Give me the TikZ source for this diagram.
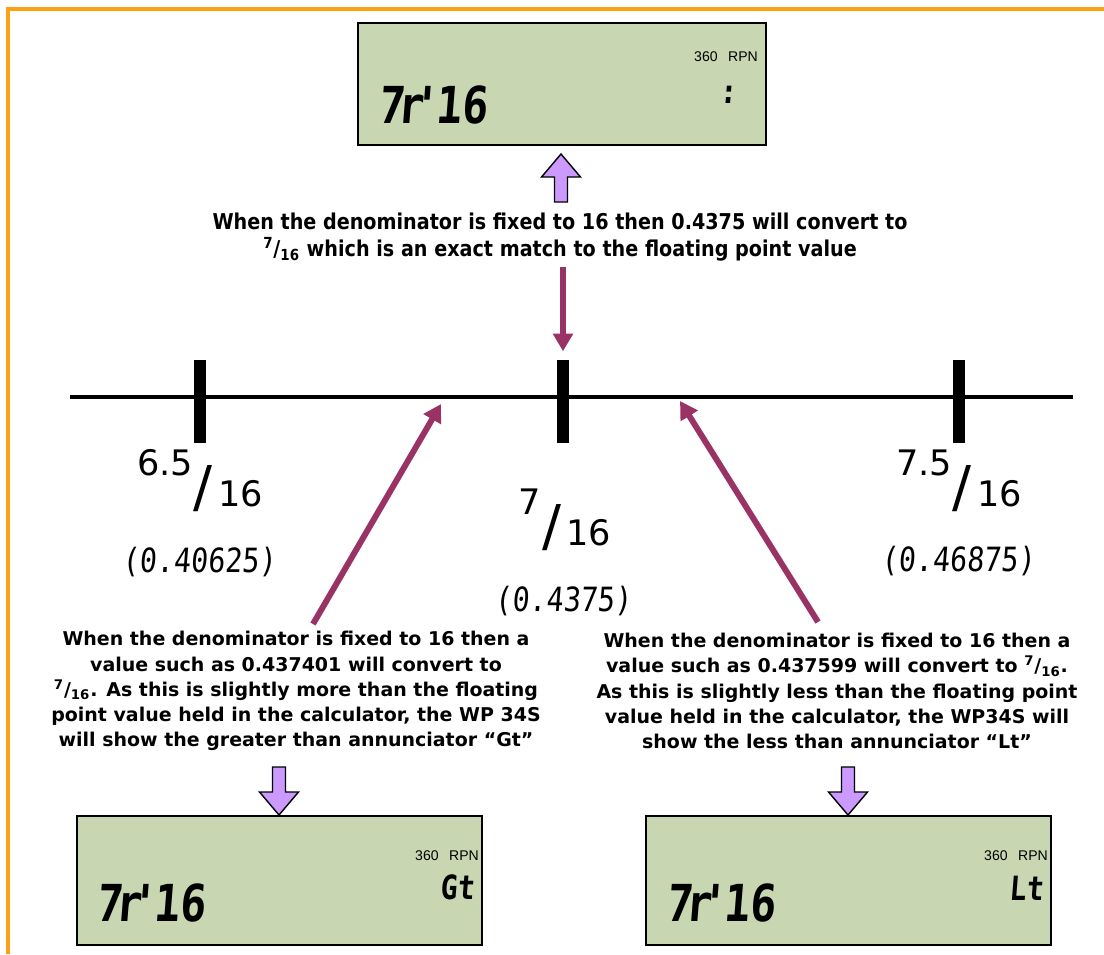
\documentclass[tikz,border=0pt]{standalone}
\usepackage{fontspec}
\setmainfont{DejaVu Sans}
\newfontfamily\narrowsans[FakeStretch=0.88]{DejaVu Sans}
\newfontfamily\lcdfont[FakeSlant=0.08,FakeStretch=0.85]{DejaVu Sans Mono}
\newfontfamily\annfont{Liberation Sans}
\usepackage{xcolor}
\usepackage{tikz}
\usetikzlibrary{arrows.meta, positioning, calc}
\definecolor{lcdgreen}{RGB}{200,215,178}
\definecolor{lilac}{RGB}{204,153,255}
\definecolor{plum}{RGB}{153,51,102}
\definecolor{frameorange}{RGB}{255,160,20}

\newcommand{\bigfrac}[2]{{\fontsize{20}{20}\selectfont\raisebox{17.5pt}{#1}\kern0.5pt{\fontsize{32}{32}\selectfont/}\kern3pt#2}}
\newcommand{\smallfrac}[2]{\textsuperscript{#1}/\textsubscript{#2}}
\newcommand{\lcdfrac}{7\kern-4pt r\kern-6pt'\kern-2pt16}

\begin{document}
\begin{tikzpicture}[
    x=0.02cm, y=-0.02cm,
    lcd/.style={draw=black, line width=1.2pt, fill=lcdgreen, inner sep=0pt},
    modes/.style={font=\annfont\fontsize{8}{8}\selectfont, inner sep=0pt},
    lcdbig/.style={font=\lcdfont\bfseries\fontsize{29}{29}\selectfont, inner sep=0pt},
    lcdann/.style={font=\lcdfont\bfseries\fontsize{19}{19}\selectfont, inner sep=0pt},
    lcdval/.style={font=\lcdfont\fontsize{19}{19}\selectfont, inner sep=0pt},
    tick/.style={fill=black, minimum width=0.24cm, minimum height=1.66cm, inner sep=0pt},
    fracbig/.style={anchor=base, inner sep=0pt},
    note/.style={align=center, font=\bfseries\fontsize{10.8}{14.3}\selectfont},
    hollow/.style={draw=black, line width=0.8pt, fill=lilac, line join=miter},
    link/.style={-{Triangle[length=10pt,width=11pt]}, line width=3.4pt, plum},
    liftarrow/.pic={\draw[hollow] (0,0) -- (19.5,23) -- (6.5,23) -- (6.5,48)
        -- (-6.5,48) -- (-6.5,23) -- (-19.5,23) -- cycle;}
]
    \useasboundingbox (0,0) rectangle (1104,954);
    \draw[frameorange, line width=2.2pt] (8,954) -- (8,9) -- (1104,9);

    % Top display
    \node[lcd, minimum width=8.16cm, minimum height=2.44cm] (toplcd) at (562,84) {};
    \node[modes] (topmodes) at ($(toplcd.north east)+(-41,35)$) {360\hspace{6pt}RPN};
    \node[lcdbig] (topval) at ($(toplcd.south west)+(76,-41)$) {\lcdfrac};
    \node[lcdann] (topann) at ($(toplcd.north east)+(-39,73)$) {:};
    \pic at (561,154) {liftarrow};

    \node[note, font=\narrowsans\bfseries\fontsize{12.4}{14.9}\selectfont] (toptext) at (560,237)
        {When the denominator is fixed to 16 then 0.4375 will convert to\\
         \smallfrac{7}{16} which is an exact match to the floating point value};

    % Number line
    \coordinate (lineL) at (70,397);
    \coordinate (lineR) at (1073,397);
    \draw[line width=2.8pt] (lineL) -- (lineR);
    \node[tick] (lowtick) at (200,401) {};
    \node[tick] (midtick) at (563,401) {};
    \node[tick] (hightick) at (959,401) {};

    \node[fracbig] (lowfrac) at (200,506) {\bigfrac{6.5}{16}};
    \node[fracbig] (midfrac) at (565,545) {\bigfrac{7}{16}};
    \node[fracbig] (highfrac) at (959,506) {\bigfrac{7.5}{16}};

    \node[lcdval] (lowval) at (199,562) {(0.40625)};
    \node[lcdval] (midval) at (563,601) {(0.4375)};
    \node[lcdval] (highval) at (958,561) {(0.46875)};

    % Explanations
    \node[note] (gttext) at (296,691)
        {When the denominator is fixed to 16 then a\\
         value such as 0.437401 will convert to\\
         \smallfrac{7}{16}. As this is slightly more than the floating\\
         point value held in the calculator, the WP 34S\\
         will show the greater than annunciator “Gt”};
    \node[note] (lttext) at (837,691)
        {When the denominator is fixed to 16 then a\\
         value such as 0.437599 will convert to \smallfrac{7}{16}.\\
         As this is slightly less than the floating point\\
         value held in the calculator, the WP34S will\\
         show the less than annunciator “Lt”};

    \coordinate (gtfoot) at (313,624);
    \coordinate (gttip) at (441,404);
    \coordinate (ltfoot) at (818,622);
    \coordinate (lttip) at (680,401);
    \draw[link] (toptext.south -| midtick.north) -- ([yshift=4.5pt]midtick.north);
    \draw[link] (gtfoot) -- (gttip);
    \draw[link] (ltfoot) -- (lttip);

    % Bottom displays
    \pic[yscale=-1] at (279,815) {liftarrow};
    \pic[yscale=-1] at (848,815) {liftarrow};

    \node[lcd, minimum width=8.1cm, minimum height=2.58cm] (gtlcd) at (279.5,880.5) {};
    \node[modes] (gtmodes) at ($(gtlcd.north east)+(-36,41)$) {360\hspace{6pt}RPN};
    \node[lcdbig] (gtval) at ($(gtlcd.south west)+(75,-43)$) {\lcdfrac};
    \node[lcdann] (gtann) at ($(gtlcd.north east)+(-26,72)$) {Gt};

    \node[lcd, minimum width=8.1cm, minimum height=2.58cm] (ltlcd) at (848.5,880.5) {};
    \node[modes] (ltmodes) at ($(ltlcd.north east)+(-36,41)$) {360\hspace{6pt}RPN};
    \node[lcdbig] (ltval) at ($(ltlcd.south west)+(76,-43)$) {\lcdfrac};
    \node[lcdann] (ltann) at ($(ltlcd.north east)+(-26,73)$) {Lt};
\end{tikzpicture}
\end{document}
